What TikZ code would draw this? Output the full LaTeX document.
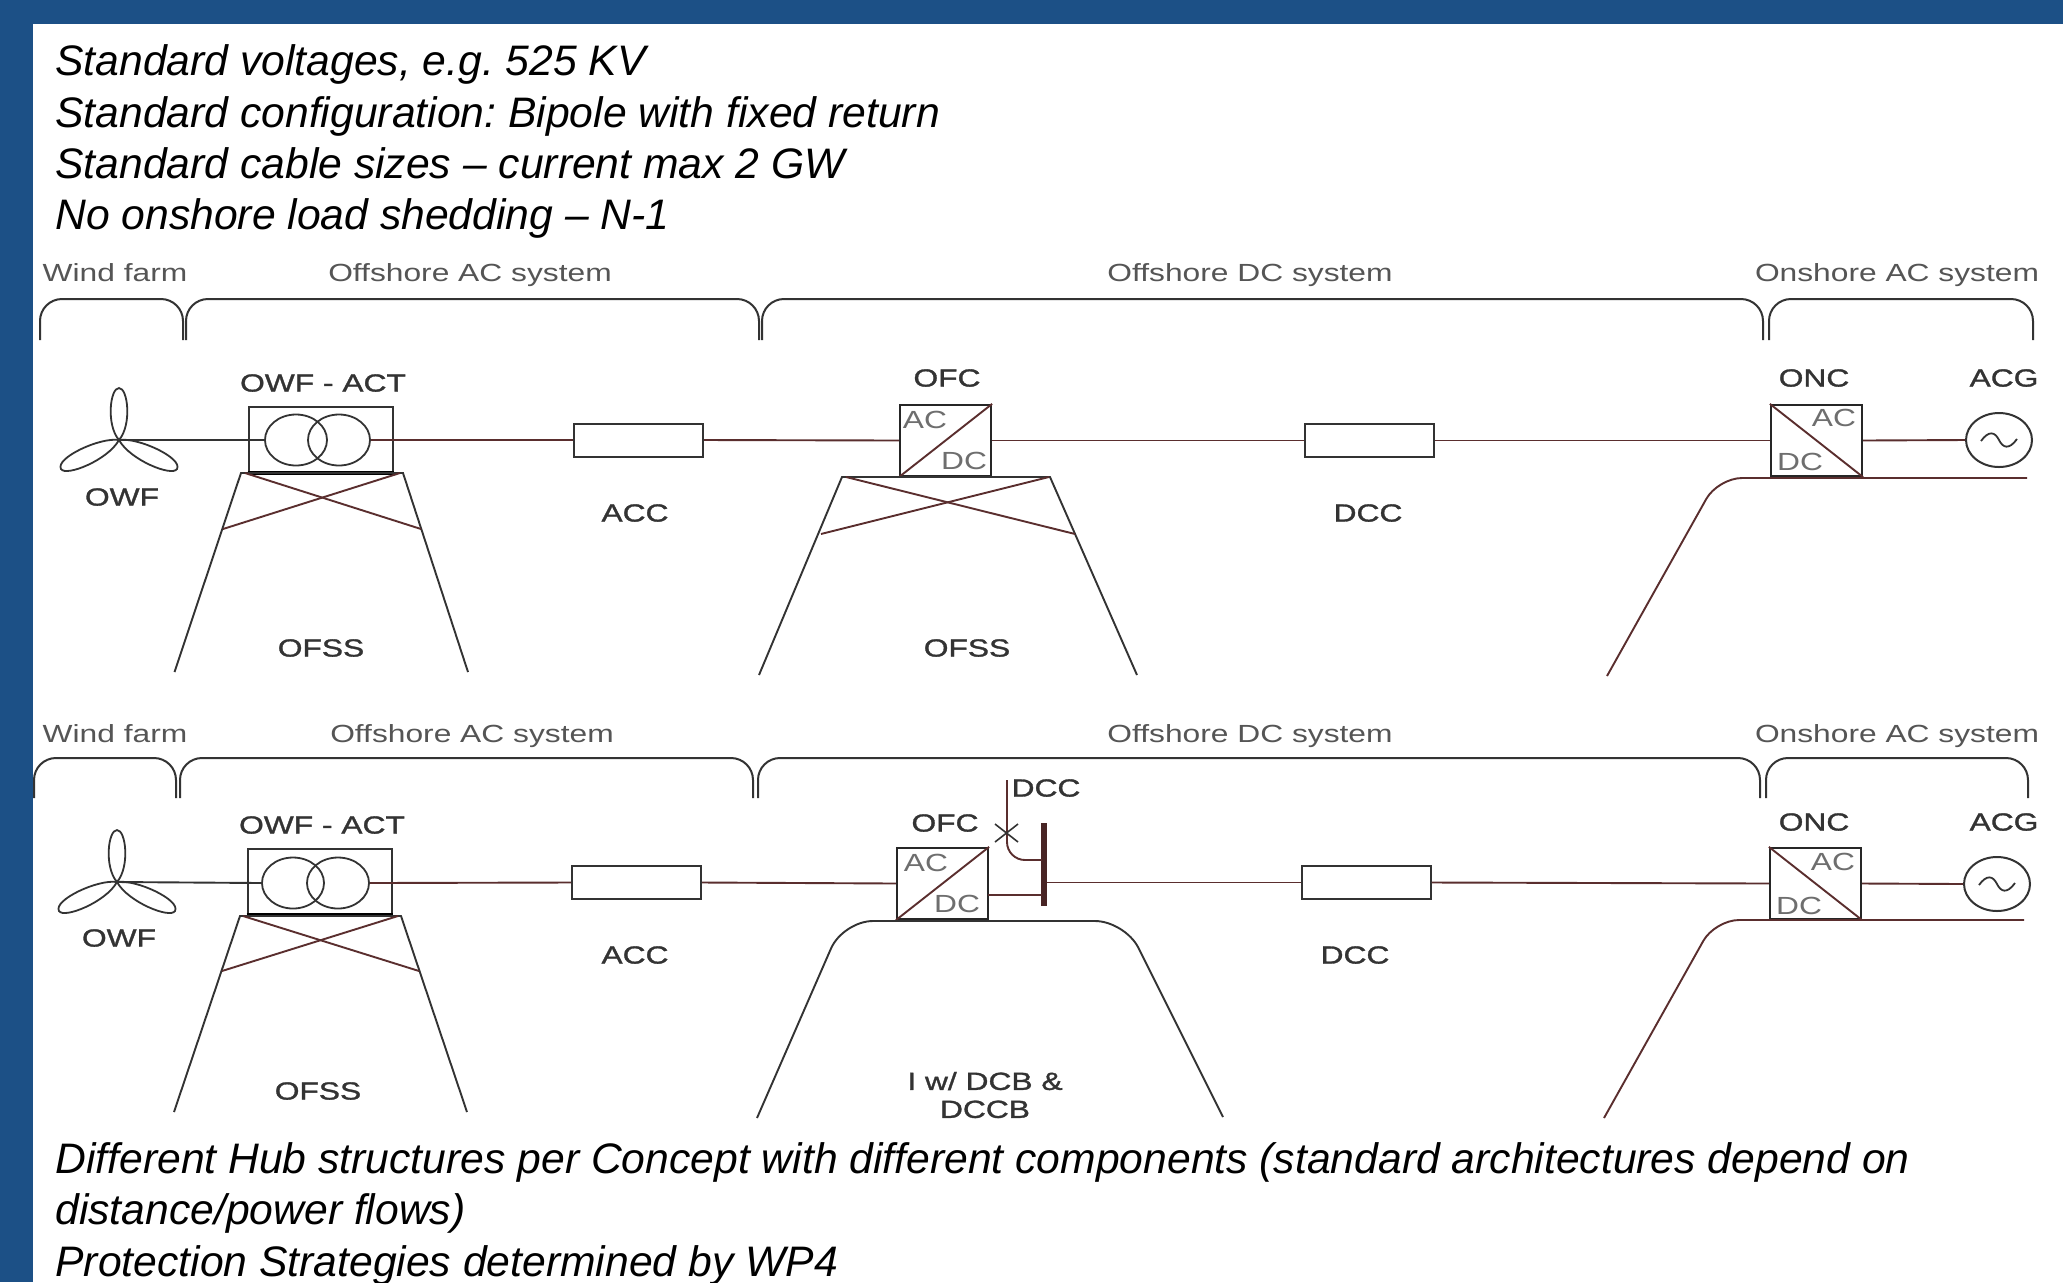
\documentclass[tikz,border=0pt]{standalone}
\usepackage{fontspec}
\setmainfont{Liberation Sans}
\newfontfamily\labfont[FakeStretch=1.28]{Liberation Sans}
\newfontfamily\labbold[FakeStretch=1.28,FakeBold=1.2]{Liberation Sans}
\usetikzlibrary{shapes.geometric}
\definecolor{barblue}{HTML}{1C5086}
\definecolor{ink}{HTML}{333333}
\definecolor{wire}{HTML}{5A2E2E}
\definecolor{head}{HTML}{555555}
\tikzset{
  x=0.5pt,y=-0.5pt,
  prose/.style={anchor=base west,inner sep=0pt,font=\fontsize{21.33}{25}\selectfont\itshape\frenchspacing,text=black},
  lab/.style={inner sep=0pt,font=\labbold\fontsize{12.4}{14}\selectfont,text=ink,align=center},
  sect/.style={anchor=base,inner sep=0pt,font=\labfont\fontsize{12.4}{14}\selectfont,text=head},
  conv/.style={inner sep=0pt,font=\labfont\fontsize{12.4}{14}\selectfont,text=head!85!white},
  brk/.style={draw=ink,line width=1pt,rounded corners=11pt},
  boxn/.style={draw=ink,line width=1pt,fill=white,inner sep=0pt,minimum width=64.5pt,minimum height=16.5pt},
  xfbox/.style={draw=ink,line width=1pt,inner sep=0pt,minimum width=72pt,minimum height=32.5pt},
  convbox/.style={draw=black!85,line width=1.1pt,inner sep=0pt,minimum width=45.5pt,minimum height=35.5pt},
  coil/.style={draw=ink,line width=0.9pt,ellipse,inner sep=0pt,minimum width=31pt,minimum height=25.5pt},
  acgen/.style={draw=ink,line width=1pt,ellipse,inner sep=0pt,minimum width=33pt,minimum height=27pt},
  lnk/.style={draw=wire,line width=0.95pt},
  lnkd/.style={draw=ink,line width=0.95pt},
  tower/.style={draw=ink,line width=0.95pt},
  busbar/.style={draw=none,fill=wire!80!black,inner sep=0pt,minimum width=2.8pt,minimum height=41.5pt},
  turbine/.pic={
    \draw[ink,line width=0.9pt] (0,0) .. controls (-13,-15) and (-9,-52) .. (0,-52) .. controls (9,-52) and (13,-15) .. (0,0);
    \draw[ink,line width=0.9pt] (0,0) .. controls (-19,-3) and (-64,18) .. (-58,29) .. controls (-53,37) and (-11,20) .. (0,0);
    \draw[ink,line width=0.9pt] (0,0) .. controls (19,-3) and (64,18) .. (58,29) .. controls (53,37) and (11,20) .. (0,0);
  },
  wave/.pic={
    \draw[ink,line width=0.9pt] (-18,1) .. controls (-10,-10) and (-4,-8) .. (0,0) .. controls (4,8) and (10,10) .. (18,-1);
  }
}
\begin{document}
\begin{tikzpicture}
\useasboundingbox (0,0) rectangle (2063,1282);
\fill[white] (0,0) rectangle (2063,1282);
\fill[barblue] (0,0) rectangle (2063,24);
\fill[barblue] (0,0) rectangle (33,1282);

% text blocks
\node[prose] (t1) at (55,75) {Standard voltages, e.g. 525 KV};
\node[prose] (t2) at (55,127) {Standard configuration: Bipole with fixed return};
\node[prose] (t3) at (55,178) {Standard cable sizes – current max 2 GW};
\node[prose] (t4) at (55,229) {No onshore load shedding – N-1};
\node[prose] (b1) at (55,1173) {Different Hub structures per Concept with different components (standard architectures depend on};
\node[prose] (b2) at (55,1224) {distance/power flows)};
\node[prose] (b3) at (55,1276) {Protection Strategies determined by WP4};

% ===== row 1 =====
\node[sect] (s1a) at (115,281) {Wind farm};
\node[sect] (s1b) at (470,281) {Offshore AC system};
\node[sect] (s1c) at (1250,281) {Offshore DC system};
\node[sect] (s1d) at (1897,281) {Onshore AC system};
\draw[brk] (40,340) |- (183,299) -- (183,340);
\draw[brk] (186,340) |- (759,299) -- (759,340);
\draw[brk] (762,340) |- (1763,299) -- (1763,340);
\draw[brk] (1769,340) |- (2033,299) -- (2033,340);

\coordinate (hub1) at (119,440);
\pic at (hub1) {turbine};
\node[xfbox] (xf1) at (320.5,439.5) {};
\node[coil] (c1a) at (296,440) {};
\node[coil] (c1b) at (339,440) {};
\draw[line width=1.8pt] (xf1.south west) -- (xf1.south east);
\node[boxn] (acc1) at (638.5,440) {};
\node[convbox] (ofc1) at (945.5,440.5) {};
\node[boxn] (dcc1) at (1369,440.5) {};
\node[convbox] (onc1) at (1816.5,440.5) {};
\node[acgen] (acg1) at (1999,440) {};
\pic at (acg1.center) {wave};
\draw[wire,line width=0.95pt] (ofc1.south west) -- (ofc1.north east);
\draw[wire,line width=0.95pt] (onc1.north west) -- (onc1.south east);
\node[conv] (ac1a) at (925,420) {AC};
\node[conv] (dc1a) at (964,461) {DC};
\node[conv] (ac1b) at (1834,418) {AC};
\node[conv] (dc1b) at (1800,462) {DC};
\draw[lnkd] (hub1) -- (c1a.west);
\draw[lnk] (c1b.east) -- (acc1.west);
\draw[lnk] (acc1.east) -- (ofc1.west);
\draw[lnk] (ofc1.east) -- (dcc1.west);
\draw[lnk] (dcc1.east) -- (onc1.west);
\draw[lnk] (onc1.east) -- (acg1.west);

\draw[tower] (174.5,672) -- (241,473) -- (403,473) -- (468,672);
\draw[lnk] (245,473) -- (421,529);
\draw[lnk] (400,473) -- (223,529);
\draw[tower] (759,675) -- (842,477) -- (1050,477) -- (1137,675);
\draw[lnk] (846,477) -- (1075,534);
\draw[lnk] (1049,477) -- (821,534);
\draw[lnk,rounded corners=12pt] (1607,676) -- (1718,478) -- (2027,478);

\node[lab] (l1a) at (323,383) {OWF - ACT};
\node[lab] (l1b) at (122,497) {OWF};
\node[lab] (l1c) at (635,513) {ACC};
\node[lab] (l1d) at (321,648) {OFSS};
\node[lab] (l1e) at (947,378) {OFC};
\node[lab] (l1f) at (1368,513) {DCC};
\node[lab] (l1g) at (967,648) {OFSS};
\node[lab] (l1h) at (1814,378) {ONC};
\node[lab] (l1i) at (2004,378) {ACG};

% ===== row 2 =====
\node[sect] (s2a) at (115,742) {Wind farm};
\node[sect] (s2b) at (472,742) {Offshore AC system};
\node[sect] (s2c) at (1250,742) {Offshore DC system};
\node[sect] (s2d) at (1897,742) {Onshore AC system};
\draw[brk] (34,798) |- (176,758) -- (176,798);
\draw[brk] (180,798) |- (753,758) -- (753,798);
\draw[brk] (758,798) |- (1760,758) -- (1760,798);
\draw[brk] (1766,798) |- (2028,758) -- (2028,798);

\coordinate (hub2) at (117,882);
\pic at (hub2) {turbine};
\node[xfbox] (xf2) at (319.5,881.5) {};
\node[coil] (c2a) at (293,883) {};
\node[coil] (c2b) at (338,883) {};
\draw[line width=1.8pt] (xf2.south west) -- (xf2.south east);
\node[boxn] (acc2) at (636.5,882.5) {};
\node[convbox] (ofc2) at (942.5,883.5) {};
\node[boxn] (dcc2) at (1366,882.5) {};
\node[convbox] (onc2) at (1815.5,883.5) {};
\node[acgen] (acg2) at (1997,884) {};
\pic at (acg2.center) {wave};
\draw[wire,line width=0.95pt] (ofc2.south west) -- (ofc2.north east);
\draw[wire,line width=0.95pt] (onc2.north west) -- (onc2.south east);
\node[conv] (ac2a) at (926,863) {AC};
\node[conv] (dc2a) at (957,904) {DC};
\node[conv] (ac2b) at (1833,862) {AC};
\node[conv] (dc2b) at (1799,906) {DC};
\node[busbar] (bus) at (1044,864.5) {};
\coordinate (dcout) at (988,895);
\coordinate (busin) at (1042,895);
\coordinate (busup) at (1042,860);
\coordinate (feed) at (1007,780);
\draw[lnkd] (hub2) -- (c2a.west);
\draw[lnk] (c2b.east) -- (acc2.west);
\draw[lnk] (acc2.east) -- (ofc2.west);
\draw[lnk] (dcout) -- (busin);
\draw[lnk] (bus.east |- dcc2.west) -- (dcc2.west);
\draw[lnk] (dcc2.east) -- (onc2.west);
\draw[lnk] (onc2.east) -- (acg2.west);
\draw[lnk,rounded corners=9pt] (feed) |- (busup);
\draw[ink,line width=0.8pt] (995,824) -- (1018,842);
\draw[ink,line width=0.8pt] (995,842) -- (1018,824);

\draw[tower] (174,1112) -- (240,916) -- (401,916) -- (467,1112);
\draw[lnk] (243,916) -- (419,971);
\draw[lnk] (398,916) -- (222,971);
\draw[tower,rounded corners=15pt] (757,1118) -- (843,921) -- (1125,921) -- (1223,1117);
\draw[lnk,rounded corners=12pt] (1604,1118) -- (1715,920) -- (2024,920);

\node[lab] (l2a) at (322,825) {OWF - ACT};
\node[lab] (l2b) at (119,938) {OWF};
\node[lab] (l2c) at (635,955) {ACC};
\node[lab] (l2d) at (318,1091) {OFSS};
\node[lab] (l2e) at (945,823) {OFC};
\node[lab] (l2f) at (1046,788) {DCC};
\node[lab] (l2g) at (1355,955) {DCC};
\node[lab] (l2h) at (1814,822) {ONC};
\node[lab] (l2i) at (2004,822) {ACG};
\node[lab] (l2j) at (985,1095) {I w/ DCB \&\\DCCB};
\end{tikzpicture}
\end{document}
